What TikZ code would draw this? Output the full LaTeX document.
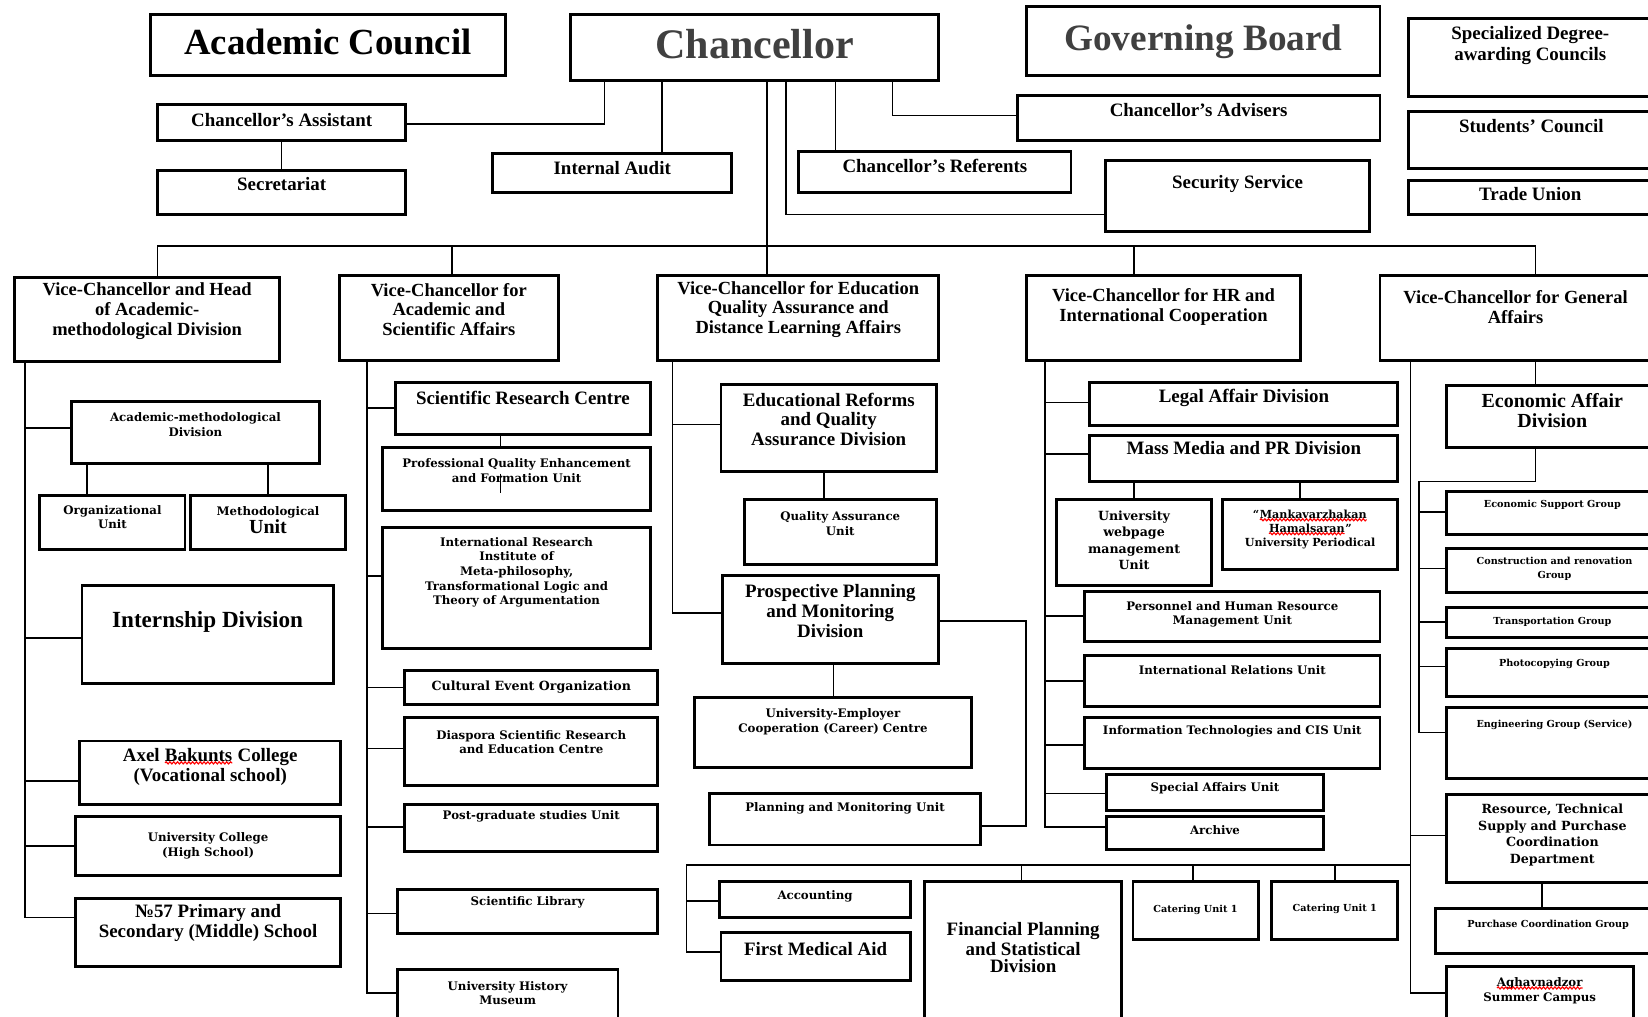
\documentclass[tikz,border=0pt]{standalone}
\usepackage{fontspec}
\setmainfont{Liberation Serif}
\newfontfamily\wideserif{DejaVu Serif}
\usetikzlibrary{fit,decorations.pathmorphing}
\newcommand\rw[1]{\tikz[baseline=(w.base)]{\node[inner sep=0pt,outer sep=0pt] (w) {#1};
 \draw[red,line width=0.55pt,decorate,decoration={snake,amplitude=0.5pt,segment length=1.8pt}] ([yshift=-0.7pt]w.base west) -- ([yshift=-0.7pt]w.base east);}}
\tikzset{
 boxs/.style={draw, line width=1.4pt, inner sep=0pt},
 con/.style={line width=0.75pt},
 huge/.style={inner sep=0pt, font=\bfseries\fontsize{17.5}{20}\selectfont},
 md/.style={inner sep=0pt, align=center, font=\bfseries\fontsize{9}{9.4}\selectfont},
 sm/.style={inner sep=0pt, align=center, font=\wideserif\bfseries\fontsize{5.6}{7}\selectfont},
 xs/.style={inner sep=0pt, align=center, font=\wideserif\bfseries\fontsize{4.6}{6.5}\selectfont},
}
\newcommand\bx[8]{\node[boxs, fit={(#3,#4)(#5,#6)}] (#2) {};
 \node[#1] (#2t) at ({(#3+#5)/2},#7) {#8};}
\begin{document}
\begin{tikzpicture}[x=0.5pt,y=-0.5pt]
\useasboundingbox (0,0) rectangle (1568,967);
\fill[white] (0,0) rectangle (1568,967);
% ---- top row
\bx{huge}{acad}{143}{14}{481}{72}{40}{Academic Council}
\bx{huge,font=\bfseries\fontsize{20}{22}\selectfont,text=black!75}{chanc}{543}{14}{893}{77}{42}{Chancellor}
\bx{huge,font=\bfseries\fontsize{17.7}{20}\selectfont,text=black!75}{gov}{977}{6}{1313}{72}{40}{Governing Board}
\bx{md,font=\bfseries\fontsize{9}{10}\selectfont}{spec}{1340}{18}{1572}{92}{43}{Specialized Degree-\\awarding Councils}
\bx{md}{stud}{1340}{106}{1574}{160}{120}{Students’ Council}
\bx{md}{trade}{1340}{172}{1572}{204}{185}{Trade Union}
\bx{md}{asst}{150}{99}{386}{134}{114}{Chancellor’s Assistant}
\bx{md}{secr}{150}{162}{386}{204}{175}{Secretariat}
\bx{md}{audit}{469}{146}{696}{183}{160}{Internal Audit}
\bx{md}{refs}{760}{144}{1019}{183}{158}{Chancellor’s Referents}
\bx{md}{advs}{968}{91}{1313}{134}{105}{Chancellor’s Advisers}
\bx{md}{secu}{1052}{153}{1303}{220}{175}{Security Service}
% ---- vice-chancellors
\bx{md,font=\bfseries\fontsize{8.8}{9.3}\selectfont}{vca}{14}{264}{266}{344}{296}{Vice-Chancellor and Head\\of Academic-\\methodological Division}
\bx{md,font=\bfseries\fontsize{8.8}{9.3}\selectfont}{vcb}{323}{262}{531}{343}{294.5}{Vice-Chancellor for\\Academic and\\Scientific Affairs}
\bx{md,font=\bfseries\fontsize{8.8}{9.3}\selectfont}{vcc}{626}{262}{893}{343}{294.5}{Vice-Chancellor for Education\\Quality Assurance and\\Distance Learning Affairs}
\bx{md,font=\bfseries\fontsize{8.8}{9.3}\selectfont}{vcd}{977}{262}{1237}{343}{292}{Vice-Chancellor for HR and\\International Cooperation}
\bx{md,font=\bfseries\fontsize{8.8}{9.3}\selectfont}{vce}{1313}{262}{1571}{343}{292}{Vice-Chancellor for General\\Affairs}
% ---- column 1
\bx{sm}{amd}{68}{382}{304}{441}{404}{Academic-methodological\\Division}
\bx{sm}{org}{38}{471}{176}{523}{492}{Organizational\\Unit}
\bx{sm}{meth}{181}{471}{329}{523}{495}{Methodological\\{\rmfamily\bfseries\fontsize{9.5}{9}\selectfont Unit}}
\bx{md,font=\bfseries\fontsize{11}{12}\selectfont}{intern}{78}{557}{317}{650}{592}{Internship Division}
\bx{md}{axel}{76}{705}{324}{765}{729.5}{Axel \rw{Bakunts} College\\(Vocational school)}
\bx{sm}{ucol}{72}{777}{324}{833}{805}{University College\\(High School)}
\bx{md}{school}{72}{855}{324}{920}{878}{№57 Primary and\\Secondary (Middle) School}
% ---- column 2
\bx{md}{src}{376}{364}{619}{413}{378.5}{Scientific Research Centre}
\bx{sm}{pqe}{364}{426}{619}{486}{448}{Professional Quality Enhancement\\and Formation Unit}
\bx{sm}{iri}{364}{502}{619}{617}{544.5}{International Research\\Institute of\\Meta-philosophy,\\Transformational Logic and\\Theory of Argumentation}
\bx{sm,font=\wideserif\bfseries\fontsize{6}{7}\selectfont}{cult}{385}{638}{626}{670}{654}{Cultural Event Organization}
\bx{sm}{dias}{385}{683}{626}{747}{706}{Diaspora Scientific Research\\and Education Centre}
\bx{sm}{pgs}{385}{765}{626}{810}{777}{Post-graduate studies Unit}
\bx{sm}{lib}{378}{846}{626}{888}{859}{Scientific Library}
\bx{sm}{mus}{378}{922}{588}{975}{945}{University History\\Museum}
% ---- column 3
\bx{md}{erq}{686}{366}{891}{449}{399}{Educational Reforms\\and Quality\\Assurance Division}
\bx{sm}{qau}{708}{475}{891}{537}{498}{Quality Assurance\\Unit}
\bx{md}{ppmd}{687}{548}{893}{631}{581.5}{Prospective Planning\\and Monitoring\\Division}
\bx{sm}{career}{661}{664}{924}{730}{687}{University-Employer\\Cooperation (Career) Centre}
\bx{sm}{pmu}{675}{755}{933}{804}{769}{Planning and Monitoring Unit}
% ---- column 4
\bx{md}{legal}{1037}{364}{1330}{405}{378.5}{Legal Affair Division}
\bx{md}{mass}{1037}{414}{1330}{458}{426.5}{Mass Media and PR Division}
\bx{sm,font=\wideserif\bfseries\fontsize{6}{7.7}\selectfont}{web}{1005}{475}{1153}{557}{514}{University\\webpage\\management\\Unit}
\bx{xs,font=\wideserif\bfseries\fontsize{5.3}{6.6}\selectfont}{peri}{1163}{475}{1330}{542}{503.5}{“\rw{Mankavarzhakan}\\\rw{Hamalsaran}”\\University Periodical}
\bx{sm}{phr}{1032}{563}{1313}{610}{584.5}{Personnel and Human Resource\\Management Unit}
\bx{sm}{iru}{1032}{624}{1313}{672}{638}{International Relations Unit}
\bx{sm}{itc}{1032}{683}{1313}{731}{696}{Information Technologies and CIS Unit}
\bx{sm}{spu}{1053}{737}{1259}{771}{750}{Special Affairs Unit}
\bx{sm}{arch}{1053}{777}{1259}{808}{790}{Archive}
% ---- column 5
\bx{md,font=\bfseries\fontsize{9.5}{9.5}\selectfont}{ead}{1376}{367}{1578}{426}{391}{Economic Affair\\Division}
\bx{xs}{esg}{1376}{468}{1578}{509}{480.5}{Economic Support Group}
\bx{xs}{crg}{1376}{522}{1582}{564}{541.5}{Construction and renovation\\Group}
\bx{xs}{trg}{1376}{578}{1578}{607}{591.5}{Transportation Group}
\bx{xs}{pcg}{1376}{617}{1582}{663}{631.5}{Photocopying Group}
\bx{xs}{eng}{1376}{673}{1582}{741}{689.5}{Engineering Group (Service)}
\bx{sm,font=\wideserif\bfseries\fontsize{6}{8}\selectfont}{rts}{1376}{756}{1578}{840}{794.5}{Resource, Technical\\Supply and Purchase\\Coordination\\Department}
\bx{xs}{pur}{1366}{864}{1580}{907}{879.5}{Purchase Coordination Group}
\bx{sm}{agh}{1376}{920}{1554}{975}{942.5}{\rw{Aghavnadzor}\\Summer Campus}
% ---- bottom group
\bx{sm}{acc}{685}{839}{866}{873}{853}{Accounting}
\bx{md}{fma}{686}{887}{866}{933}{902.5}{First Medical Aid}
\bx{md,font=\bfseries\fontsize{9}{8.2}\selectfont}{fps}{880}{839}{1067}{975}{901.5}{Financial Planning\\and Statistical\\Division}
\bx{xs}{cata}{1078}{839}{1197}{894}{866}{Catering Unit 1}
\bx{xs}{catb}{1210}{839}{1330}{894}{865}{Catering Unit 1}
% ---- connectors: chancellor
\coordinate (bus) at (730,234);
\draw[con] (chanc.south -| 575,0) |- (asst.east |- 0,118);
\draw[con] (asst.south) -- (secr.north);
\draw[con] (chanc.south -| 630,0) -- (audit.north -| 630,0);
\draw[con] (chanc.south -| 795,0) -- (refs.north -| 795,0);
\draw[con] (chanc.south -| 849,0) |- (advs.west |- 0,110);
\draw[con] (chanc.south -| 748,0) |- (secu.west |- 0,204);
\draw[con] (chanc.south -| bus) -- (bus);
\draw[con] (vca.north -| 150,0) -- (150,234) -- (1461,234) -- (vce.north -| 1461,0);
\draw[con] (430,234) -- (vcb.north -| 430,0);
\draw[con] (bus) -- (vcc.north -| bus);
\draw[con] (1079,234) -- (vcd.north -| 1079,0);
% ---- column 1
\draw[con] (vca.south -| 24,0) -- (24,873) -- (school.west |- 0,873);
\draw[con] (24,407) -- (amd.west |- 0,407);
\draw[con] (24,607) -- (intern.west |- 0,607);
\draw[con] (24,743) -- (axel.west |- 0,743);
\draw[con] (24,805) -- (ucol.west |- 0,805);
\draw[con] (amd.south -| 83,0) -- (org.north -| 83,0);
\draw[con] (amd.south -| 255,0) -- (meth.north -| 255,0);
% ---- column 2
\draw[con] (vcb.south -| 349,0) -- (349,945) -- (mus.west |- 0,945);
\draw[con] (349,388) -- (src.west |- 0,388);
\draw[con] (349,548) -- (iri.west |- 0,548);
\draw[con] (349,654) -- (cult.west |- 0,654);
\draw[con] (349,712) -- (dias.west |- 0,712);
\draw[con] (349,787) -- (pgs.west |- 0,787);
\draw[con] (349,869) -- (lib.west |- 0,869);
\draw[con] (src.south -| 476,0) -- (pqe.north -| 476,0);
\draw[con] (pqe.north -| 476,0) ++(0,26) -- ++(0,18);
% ---- column 3
\draw[con] (vcc.south -| 640,0) -- (640,583) -- (ppmd.west |- 0,583);
\draw[con] (640,404) -- (erq.west |- 0,404);
\draw[con] (erq.south -| 784,0) -- (qau.north -| 784,0);
\draw[con] (ppmd.south -| 793,0) -- (career.north -| 793,0);
\draw[con] (ppmd.east |- 0,591) -- (976,591) -- (976,786) -- (pmu.east |- 0,786);
% ---- column 4
\draw[con] (vcd.south -| 994,0) -- (994,787) -- (arch.west |- 0,787);
\draw[con] (994,383) -- (legal.west |- 0,383);
\draw[con] (994,432) -- (mass.west |- 0,432);
\draw[con] (994,586) -- (phr.west |- 0,586);
\draw[con] (994,648) -- (iru.west |- 0,648);
\draw[con] (994,709) -- (itc.west |- 0,709);
\draw[con] (994,755) -- (spu.west |- 0,755);
\draw[con] (mass.south -| 1079,0) -- (web.north -| 1079,0);
\draw[con] (mass.south -| 1237,0) -- (peri.north -| 1237,0);
% ---- column 5
\draw[con] (vce.south -| 1342,0) -- (1342,945) -- (agh.west |- 0,945);
\draw[con] (1342,795) -- (rts.west |- 0,795);
\draw[con] (vce.south -| 1461,0) -- (ead.north -| 1461,0);
\draw[con] (ead.south -| 1461,0) -- (1461,458) -- (1350,458) -- (1350,697) -- (eng.west |- 0,697);
\draw[con] (1350,487) -- (esg.west |- 0,487);
\draw[con] (1350,541) -- (crg.west |- 0,541);
\draw[con] (1350,592) -- (trg.west |- 0,592);
\draw[con] (1350,634) -- (pcg.west |- 0,634);
\draw[con] (rts.south -| 1467,0) -- (pur.north -| 1467,0);
% ---- bottom bus
\draw[con] (1342,823) -- (653,823) -- (653,906) -- (fma.west |- 0,906);
\draw[con] (653,857) -- (acc.west |- 0,857);
\draw[con] (972,823) -- (fps.north -| 972,0);
\draw[con] (1135,823) -- (cata.north -| 1135,0);
\draw[con] (1270,823) -- (catb.north -| 1270,0);
\end{tikzpicture}
\end{document}
